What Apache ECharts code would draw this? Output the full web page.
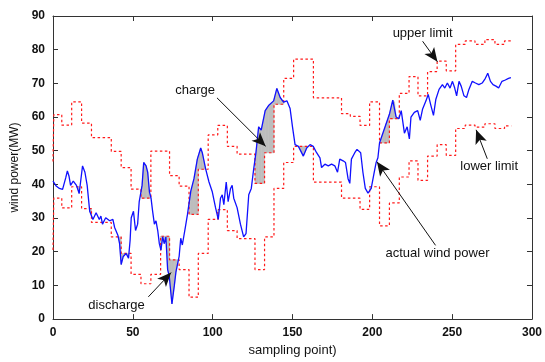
<!DOCTYPE html>
<html>
<head>
<meta charset="utf-8">
<title>wind power</title>
<script src="https://cdn.jsdelivr.net/npm/echarts@6.0.0/dist/echarts.min.js"></script>
<style>
  html, body { margin: 0; padding: 0; background: #fff; }
  #main { width: 545px; height: 362px; }
</style>
</head>
<body>
<div id="main"></div>
<script>
// actual wind power (sampling point / MW)
var windX = [0, 2, 4, 6, 8, 9, 10, 11, 12.7, 14.7, 16.4, 18.5, 20, 21.4, 23, 25, 27, 29, 30, 31,
  33, 35.5, 37.5, 38.6, 40.7, 41.7, 42.7, 44, 45.8, 47.3, 48.3, 49, 50.4, 51.7, 53, 54, 55.8, 56.8, 58.3, 59.3,
  60.4, 61.4, 62.4, 63.5, 64.5, 65.6, 66.6, 67.6, 68.7, 69.7, 70.7, 71.8, 72.8, 74.5, 76, 77, 79, 80, 81, 82.8,
  84.2, 86.3, 88.3, 90.4, 92.5, 93.5, 95.6, 97.7, 99.7, 101.8, 103.5, 104.9, 106, 107, 108.5, 109.7, 111.2, 112.2, 113.2, 115.3,
  117.4, 119.4, 120.9, 122.6, 124.2, 125.7, 127.1, 128.8, 130.4, 132.9, 135, 138.2, 140.2, 142.3, 144.4, 146.5, 148.5, 150, 151.6, 153.7,
  156.8, 158.9, 161, 163, 165.1, 167.2, 168.2, 170.3, 172.4, 174.5, 176.5, 178.2, 179.6, 181.7, 183.2, 184.8, 185.9, 186.9, 189, 190.4,
  191.5, 192.7, 194.1, 195.6, 197.3, 199.3, 201, 202.4, 203.5, 204.5, 206.6, 208.7, 210.8, 212.8, 213.9, 214.9, 216.6, 218.1, 220.1, 221.8,
  223.2, 224.2, 226.3, 228.4, 230, 231.5, 233.6, 235, 236.7, 238.3, 239.8, 241.8, 243.9, 245.4, 247, 248.7, 250.2, 251.6, 252.8, 254.3,
  255.7, 257.4, 259, 260.5, 262.6, 264.6, 266.7, 268.8, 270.8, 272.3, 274, 275.6, 277.7, 279.1, 281.2, 283.3, 285.3, 286.8];
var windPower = [41, 39.5, 38.8, 38.5, 42, 44, 42.5, 39.7, 41, 39.7, 37.3, 45.5, 43.6, 39.7, 32, 29.6, 31.6, 29.6, 30.6, 28.2,
  30.1, 29.2, 29.6, 27.2, 24.8, 22.4, 16.2, 18.6, 19.5, 18.1, 23.4, 30.1, 32, 26.3, 28.2, 34.9, 39.7, 46.5, 45.5, 43.6,
  37.8, 35.9, 32, 28.2, 29.2, 26.3, 22.4, 20.5, 24.4, 22.4, 24.4, 14.7, 12.8, 4.5, 10, 14, 18.6, 24, 22, 27,
  31, 38, 41.7, 47.5, 50.8, 49.4, 44.6, 40.7, 37.9, 33.1, 29.6, 35.9, 36.9, 34, 40.7, 34.9, 38.8, 39.7, 35.9, 33.1,
  28.2, 24.4, 25.4, 36.9, 38.8, 44.6, 49.4, 57.1, 56.1, 61.9, 63.4, 64.8, 68.5, 65.8, 64.4, 64.8, 62.5, 57.1, 51.8, 51.3,
  48.4, 50.8, 51.8, 51.3, 49.4, 47.9, 45, 46, 45.5, 46, 45.5, 43.6, 47.5, 47, 46.5, 41.7, 40.3, 47.5, 49.4, 50.4,
  49.9, 49.4, 43.6, 38.8, 37.4, 38.8, 43.1, 46.5, 47.9, 52.3, 55.2, 58.1, 61, 65, 64.5, 60, 59.5, 61.9, 55.2, 57.1,
  53.5, 60, 61.4, 61.9, 59, 62.4, 64.8, 66.7, 63.4, 60.5, 65.3, 68.2, 69.6, 68.6, 70.1, 68.6, 70.6, 68.6, 66.3, 70.6,
  69.1, 66.3, 65.8, 68.2, 70.6, 70.1, 69.6, 70.1, 71.5, 73, 70.6, 69.6, 69.1, 68.6, 70.6, 71, 71.5, 71.7];

// step limits: each value holds from limitEdges[i] to limitEdges[i+1]
var limitEdges = [0, 0.5, 5.5, 11.7, 17.9, 24.1, 30.3, 36.5, 42.7, 48.9, 55.1, 61.3, 67.4, 73, 79, 85.2, 91, 97.2, 103.2, 109.2,
  115.3, 121, 126.5, 132.5, 138.4, 144.5, 150.7, 156.9, 163.1, 169, 175, 180.7, 186.2, 192.3, 198.3, 204.5, 210.7, 216.9, 223, 228.6,
  234.6, 240.6, 246.3, 252.2, 258.2, 264.3, 270.5, 276.8, 282.8, 287];
var upperLimit = [46.8, 60.7, 57.6, 64.5, 58.2, 53.9, 53.9, 49.8, 45, 38.6, 35.9, 49.9, 49.9, 42.6, 39.5, 31.1, 44.5, 54.7, 57.5, 51.3,
  49, 49, 40.3, 49.4, 63.8, 71.5, 77.2, 77.2, 65.7, 65.7, 65.7, 61, 60.2, 57.5, 64.5, 52.3, 59.5, 67, 72, 66.3,
  73.5, 76.6, 73.7, 81.6, 82.6, 81.6, 83, 81.6, 82.6];
var lowerLimit = [20.5, 35.9, 33, 39.3, 32.8, 28.7, 28.7, 24.4, 19.5, 13.3, 10.5, 13.3, 24.6, 17.6, 14.7, 6.5, 19.5, 29.6, 32.5, 26.3,
  23.9, 23.9, 14.7, 24.4, 38.8, 46.5, 51.3, 51.3, 40.7, 40.7, 40.7, 35.9, 35.9, 32.6, 39.3, 27.7, 34.5, 42.2, 47, 41.2,
  48.4, 51.8, 48.6, 56.6, 57.6, 57, 58, 56.6, 57.4];

var xTicks = [0, 300, 50];
var yTicks = [0, 90, 10];

// text notes: [label, text x, text y, arrow from x, from y, arrow tip x, tip y]
var notes = [
  ['charge', 89, 67.8, 102.7, 65.7, 133.2, 51.3],
  ['discharge', 39.8, 4.2, 59.7, 6.6, 74, 13.8],
  ['upper limit', 231.5, 84.8, 231.5, 82.5, 240.8, 76.4],
  ['lower limit', 273.2, 45.2, 272, 47.6, 265, 56.2],
  ['actual wind power', 240.8, 19.6, 239.6, 21.9, 202.9, 46.7]
];

var textFont = 'Arial, "Liberation Sans", Helvetica, sans-serif';

function stepData(vals) {
  var out = [];
  for (var i = 0; i < vals.length; i++) out.push([limitEdges[i], vals[i]]);
  out.push([limitEdges[limitEdges.length - 1], vals[vals.length - 1]]);
  return out;
}

function limitAt(vals, x) {
  for (var i = 0; i < limitEdges.length - 1; i++) {
    if (x >= limitEdges[i] && x < limitEdges[i + 1]) return vals[i];
  }
  return vals[vals.length - 1];
}

function powerAt(x) {
  for (var i = 0; i < windX.length - 1; i++) {
    if (x >= windX[i] && x <= windX[i + 1]) {
      var t = (x - windX[i]) / (windX[i + 1] - windX[i]);
      return windPower[i] + t * (windPower[i + 1] - windPower[i]);
    }
  }
  return windPower[windPower.length - 1];
}

// grey patches where the power leaves the band
function renderGap(params, api) {
  var xs = windX.slice();
  limitEdges.forEach(function (e) {
    if (e > windX[0] && e < windX[windX.length - 1]) xs.push(e);
  });
  xs.sort(function (a, b) { return a - b; });
  var kids = [];
  function piece(xa, xb, ba, bb, ref, sign) {
    var da = sign * (ba - ref), db = sign * (bb - ref);
    var pts;
    if (da <= 0 && db <= 0) return;
    if (da >= 0 && db >= 0) {
      pts = [[xa, ref], [xa, ba], [xb, bb], [xb, ref]];
    } else {
      var xc = xa + da / (da - db) * (xb - xa);
      pts = da > 0 ? [[xa, ref], [xa, ba], [xc, ref]] : [[xc, ref], [xb, bb], [xb, ref]];
    }
    kids.push({
      type: 'polygon',
      shape: { points: pts.map(function (p) { return api.coord(p); }) },
      style: { fill: '#bdbdbd', stroke: '#bdbdbd', lineWidth: 0.6 }
    });
  }
  for (var i = 0; i < xs.length - 1; i++) {
    var xa = xs[i], xb = xs[i + 1];
    if (xb - xa < 1e-6) continue;
    var mid = (xa + xb) / 2;
    var ba = powerAt(xa), bb = powerAt(xb);
    piece(xa, xb, ba, bb, limitAt(upperLimit, mid), 1);
    piece(xa, xb, ba, bb, limitAt(lowerLimit, mid), -1);
  }
  return { type: 'group', children: kids };
}

var chart = echarts.init(document.getElementById('main'));

var axisCommon = {
  type: 'value',
  axisLine: { show: true, onZero: false, lineStyle: { color: '#333', width: 1 } },
  axisTick: { show: true, inside: true, length: 5, lineStyle: { color: '#333' } },
  splitLine: { show: false },
  axisLabel: { color: '#111', fontSize: 12, fontWeight: 'bold', fontFamily: textFont }
};

var option = {
  animation: false,
  backgroundColor: '#fff',
  grid: { left: 53, right: 10, top: 16, bottom: 34 },
  xAxis: [
    Object.assign({}, axisCommon, {
      min: xTicks[0], max: xTicks[1], interval: xTicks[2], position: 'bottom',
      name: 'sampling point)', nameLocation: 'middle', nameGap: 20,
      nameTextStyle: { color: '#111', fontSize: 13, fontFamily: textFont }
    }),
    Object.assign({}, axisCommon, {
      min: xTicks[0], max: xTicks[1], interval: xTicks[2], position: 'top',
      axisLabel: { show: false }
    })
  ],
  yAxis: [
    Object.assign({}, axisCommon, {
      min: yTicks[0], max: yTicks[1], interval: yTicks[2], position: 'left',
      name: 'wind power(MW)', nameLocation: 'middle', nameGap: 31,
      nameTextStyle: { color: '#111', fontSize: 12, fontFamily: textFont }
    }),
    Object.assign({}, axisCommon, {
      min: yTicks[0], max: yTicks[1], interval: yTicks[2], position: 'right',
      axisLabel: { show: false }
    })
  ],
  series: [
    {
      type: 'custom',
      renderItem: renderGap,
      data: [[0, 0]],
      silent: true,
      z: 1
    },
    {
      name: 'upper limit',
      type: 'line',
      step: 'end',
      data: stepData(upperLimit),
      symbol: 'none',
      lineStyle: { color: '#ff1a1a', width: 1.2, type: [2.5, 2.5] },
      z: 3
    },
    {
      name: 'lower limit',
      type: 'line',
      step: 'end',
      data: stepData(lowerLimit),
      symbol: 'none',
      lineStyle: { color: '#ff1a1a', width: 1.2, type: [2.5, 2.5] },
      z: 3
    },
    {
      name: 'actual wind power',
      type: 'line',
      data: windX.map(function (x, i) { return [x, windPower[i]]; }),
      symbol: 'none',
      lineStyle: { color: '#1010ff', width: 1.3 },
      z: 4,
      markLine: {
        silent: true,
        symbol: ['none', 'arrow'],
        symbolSize: [9, 14],
        label: { show: false },
        lineStyle: { color: '#111', width: 1, type: 'solid' },
        data: notes.map(function (n) {
          return [{ coord: [n[3], n[4]] }, { coord: [n[5], n[6]] }];
        })
      },
      markPoint: {
        silent: true,
        symbol: 'circle',
        symbolSize: 1,
        itemStyle: { color: 'rgba(0,0,0,0)' },
        label: {
          show: true,
          position: 'inside',
          color: '#111',
          fontSize: 13,
          fontFamily: textFont
        },
        data: notes.map(function (n) {
          return { coord: [n[1], n[2]], value: n[0], label: { formatter: n[0] } };
        })
      }
    }
  ]
};

chart.setOption(option);
</script>
</body>
</html>
